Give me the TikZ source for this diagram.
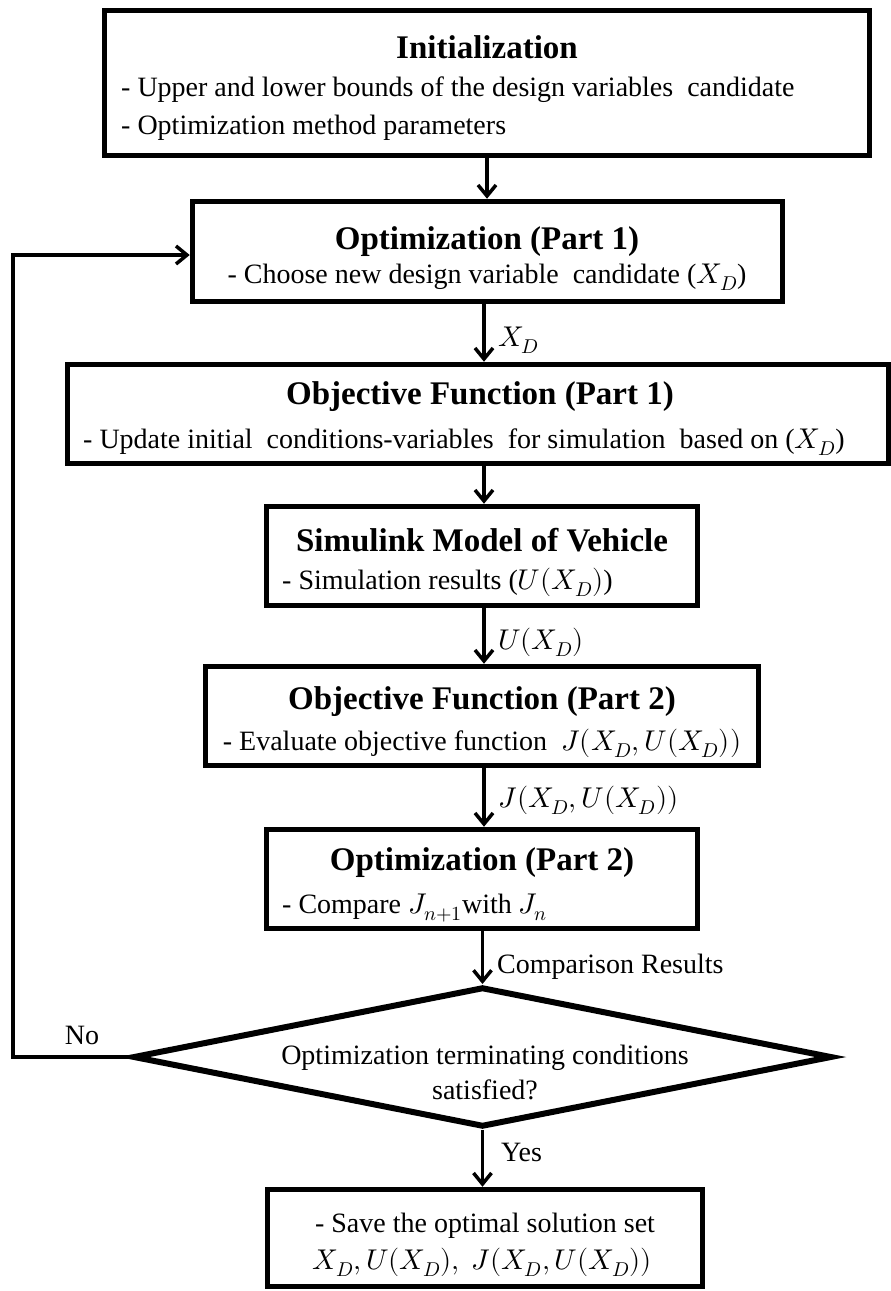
\documentclass[tikz,border=0pt]{standalone}
\usepackage{fontspec}
\setmainfont{Liberation Serif}
\usepackage{unicode-math}
\setmathfont{Latin Modern Math}[Scale=1.02]
\usetikzlibrary{arrows.meta,shapes.geometric}

\tikzset{
  box/.style={draw, line width=5.5pt, inner sep=0pt},
  title/.style={font=\fontsize{33}{38}\selectfont\bfseries, inner sep=0pt},
  body/.style={font=\fontsize{28}{34}\selectfont, inner sep=0pt},
  lbl/.style={font=\fontsize{28}{34}\selectfont, inner sep=0pt, anchor=west},
  flow/.style={line width=3.5pt, -{Straight Barb[length=11pt,width=18pt]}},
  feed/.style={line width=3.5pt, line join=miter, -{Straight Barb[length=11pt,width=18pt]}},
}

\begin{document}
\begin{tikzpicture}[x=1pt,y=-1pt]
\useasboundingbox (0,0) rectangle (891,1291);

% process boxes
\node[box, minimum width=765pt, minimum height=145pt] (init) at (487,83) {};
\node[box, minimum width=590pt, minimum height=100pt] (opt1) at (487.5,251.5) {};
\node[box, minimum width=821pt, minimum height=99pt] (obj1) at (478,414) {};
\node[box, minimum width=431pt, minimum height=99pt] (sim) at (482,556) {};
\node[box, minimum width=553pt, minimum height=99pt] (obj2) at (482,716) {};
\node[box, minimum width=431pt, minimum height=99pt] (opt2) at (482,879) {};
\node[draw, diamond, line width=6pt, inner sep=0pt,
      minimum width=699pt, minimum height=140pt] (dec) at (482.5,1057) {};
\node[box, minimum width=435pt, minimum height=97pt] (save) at (485,1238) {};

% box texts
\node[title] (t1) at (487,47) {Initialization};
\node[body, anchor=west] (t1a) at (121,90) {- Upper and lower bounds of the design variables\ \ candidate};
\node[body, anchor=west] (t1b) at (121,128) {- Optimization method parameters};

\node[title] (t2) at (487,242) {Optimization (Part 1)};
\node[body] (t2a) at (487,277) {- Choose new design variable\ \ candidate ($X_D$)};

\node[title] (t3) at (480,397) {Objective Function (Part 1)};
\node[body] (t3a) at (464,442) {- Update initial\ \ conditions-variables\ \ for simulation\ \ based on ($X_D$)};

\node[title] (t4) at (482,540) {Simulink Model of Vehicle};
\node[body, anchor=west] (t4a) at (282,582) {- Simulation results ($U(X_D)$)};

\node[title] (t5) at (482,702) {Objective Function (Part 2)};
\node[body] (t5a) at (482,743) {- Evaluate objective function\ \ $J(X_D,U(X_D))$};

\node[title] (t6) at (482,863) {Optimization (Part 2)};
\node[body, anchor=west] (t6a) at (282,908) {- Compare $J_{n+1}$with $J_n$};

\node[body, align=center, font=\fontsize{28}{35}\selectfont] (t7) at (485,1072)
  {Optimization terminating conditions\\satisfied?};

\node[body] (t8a) at (485,1226) {- Save the optimal solution set};
\node[body] (t8b) at (482,1262) {$X_D,U(X_D),\ J(X_D,U(X_D))$};

% connectors
\draw[flow] (init.south) -- (init.south |- opt1.north);
\draw[flow] (484,304) coordinate (a2) -- (a2 |- obj1.north);
\draw[flow] (484,466) coordinate (a3) -- (a3 |- sim.north);
\draw[flow] (484,608) coordinate (a4) -- (a4 |- obj2.north);
\draw[flow] (484,768) coordinate (a5) -- (a5 |- opt2.north);
\draw[flow] (dec.north |- opt2.south) -- (dec.north);
\draw[flow] (dec.south) -- (dec.south |- save.north);
\coordinate (fbx) at (13,0);
\draw[feed] (dec.west) -- (fbx |- dec.west) -- (fbx |- 0,255) -- (opt1.west |- 0,255);

% connector labels
\node[lbl] (l1) at (498,340) {$X_D$};
\node[lbl] (l2) at (498,642) {$U(X_D)$};
\node[lbl] (l3) at (498,800) {$J(X_D,U(X_D))$};
\node[lbl] (l4) at (497,967) {Comparison Results};
\node[lbl] (l5) at (501,1152) {Yes};
\node[body] (l6) at (82,1035) {No};
\end{tikzpicture}
\end{document}
